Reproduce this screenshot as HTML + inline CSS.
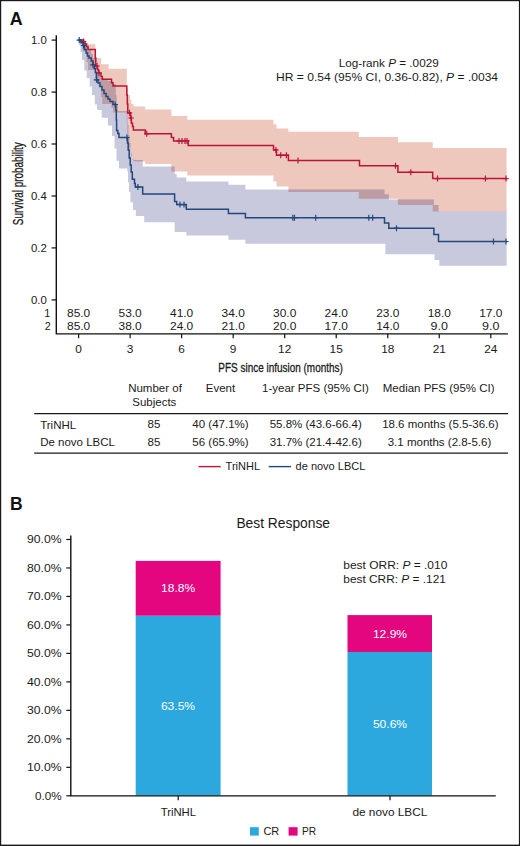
<!DOCTYPE html>
<html><head><meta charset="utf-8"><style>
html,body{margin:0;padding:0;background:#fff;}
body{width:520px;height:846px;overflow:hidden;}
svg{display:block;font-family:"Liberation Sans", sans-serif;}
</style></head><body>
<svg width="520" height="846" viewBox="0 0 520 846">
<rect width="520" height="846" fill="#fff"/>
<rect x="0" y="0" width="520" height="1.2" fill="#1a1a1a"/>
<rect x="0" y="0" width="1.2" height="846" fill="#1a1a1a"/>
<rect x="518.9" y="0" width="1.1" height="846" fill="#1a1a1a"/>
<rect x="0" y="844.6" width="520" height="1.4" fill="#1a1a1a"/>
<text x="9.7" y="24.7" font-size="17.9" font-weight="bold" fill="#111">A</text>
<defs><clipPath id="pc"><path d="M78.6 40.1 L83 40.1 L83 41.5 L85.5 41.5 L85.5 43 L87.8 43 L87.8 44.3 L95.3 44.3 L95.3 58 L101 58 L101 64.3 L108.6 64.3 L108.6 68.8 L126.8 68.8 L126.8 88 L127.8 88 L127.8 95 L130 95 L130 100 L131.4 100 L131.4 104 L133.4 104 L133.4 106.5 L145.2 106.5 L145.2 109.5 L171.4 109.5 L171.4 116 L187.3 116 L187.3 119.8 L273.5 119.8 L273.5 124.3 L276.5 124.3 L276.5 128.6 L288.4 128.6 L288.4 131.8 L358.8 131.8 L358.8 137.1 L397.9 137.1 L397.9 142.2 L432.7 142.2 L432.7 147.9 L506.6 147.9 L506.6 211.5 L432.7 211.5 L432.7 205 L397.9 205 L397.9 198.8 L358.8 198.8 L358.8 191.9 L288.4 191.9 L288.4 186.4 L276.5 186.4 L276.5 181.5 L273.5 181.5 L273.5 175.5 L187.3 175.5 L187.3 171.5 L171.4 171.5 L171.4 164 L145.2 164 L145.2 161.5 L133.4 161.5 L133.4 159.5 L132.5 159.5 L132.5 157 L131.4 157 L131.4 153 L130.5 153 L130.5 148 L127.8 148 L127.8 138 L127.3 138 L127.3 125 L126.8 125 L126.8 112.4 L113 112.4 L113 108 L111.5 108 L111.5 104 L102.3 104 L102.3 97 L101 97 L101 86 L98.5 86 L98.5 82 L97.5 82 L97.5 78 L95.3 78 L95.3 70 L88 70 L88 62 L86.6 62 L86.6 51.3 L82.7 51.3 L82.7 44 L80 44 L80 40.1 L78.6 40.1 Z"/></clipPath></defs>
<path d="M78.6 40.1 L83 40.1 L83 41.5 L85.5 41.5 L85.5 43 L87.8 43 L87.8 44.3 L95.3 44.3 L95.3 58 L101 58 L101 64.3 L108.6 64.3 L108.6 68.8 L126.8 68.8 L126.8 88 L127.8 88 L127.8 95 L130 95 L130 100 L131.4 100 L131.4 104 L133.4 104 L133.4 106.5 L145.2 106.5 L145.2 109.5 L171.4 109.5 L171.4 116 L187.3 116 L187.3 119.8 L273.5 119.8 L273.5 124.3 L276.5 124.3 L276.5 128.6 L288.4 128.6 L288.4 131.8 L358.8 131.8 L358.8 137.1 L397.9 137.1 L397.9 142.2 L432.7 142.2 L432.7 147.9 L506.6 147.9 L506.6 211.5 L432.7 211.5 L432.7 205 L397.9 205 L397.9 198.8 L358.8 198.8 L358.8 191.9 L288.4 191.9 L288.4 186.4 L276.5 186.4 L276.5 181.5 L273.5 181.5 L273.5 175.5 L187.3 175.5 L187.3 171.5 L171.4 171.5 L171.4 164 L145.2 164 L145.2 161.5 L133.4 161.5 L133.4 159.5 L132.5 159.5 L132.5 157 L131.4 157 L131.4 153 L130.5 153 L130.5 148 L127.8 148 L127.8 138 L127.3 138 L127.3 125 L126.8 125 L126.8 112.4 L113 112.4 L113 108 L111.5 108 L111.5 104 L102.3 104 L102.3 97 L101 97 L101 86 L98.5 86 L98.5 82 L97.5 82 L97.5 78 L95.3 78 L95.3 70 L88 70 L88 62 L86.6 62 L86.6 51.3 L82.7 51.3 L82.7 44 L80 44 L80 40.1 L78.6 40.1 Z" fill="#eec8bd"/>
<path d="M78.6 40.1 L81 40.1 L81 41 L84.4 41 L84.4 43.5 L87 43.5 L87 46 L89 46 L89 49 L91.3 49 L91.3 54 L93 54 L93 58 L95.3 58 L95.3 66 L96.5 66 L96.5 72 L100 72 L100 78 L104 78 L104 80 L108 80 L108 81 L113 81 L113 84 L115.8 84 L115.8 95 L116.6 95 L116.6 105 L118 105 L118 111 L127.5 111 L127.5 125 L128.5 125 L128.5 135 L129.5 135 L129.5 143 L130.5 143 L130.5 153 L132 153 L132 158.5 L133.5 158.5 L133.5 160 L142.7 160 L142.7 166.5 L174.6 166.5 L174.6 174 L176.7 174 L176.7 177.6 L186.3 177.6 L186.3 181.5 L228.4 181.5 L228.4 184.8 L245.4 184.8 L245.4 189.6 L384.5 189.6 L384.5 194.2 L388.8 194.2 L388.8 199.5 L433.9 199.5 L433.9 205 L438.5 205 L438.5 211.5 L506.6 211.5 L506.6 265.7 L439.3 265.7 L439.3 260 L434.5 260 L434.5 254.3 L385.4 254.3 L385.4 243.8 L245.4 243.8 L245.4 239.7 L228.4 239.7 L228.4 235.5 L186.3 235.5 L186.3 232 L174.6 232 L174.6 222.3 L144.2 222.3 L144.2 216 L135.8 216 L135.8 210 L133 210 L133 202.3 L130.4 202.3 L130.4 192 L129 192 L129 182.3 L128 182.3 L128 171.5 L127.3 171.5 L127.3 168.5 L119 168.5 L119 160.8 L116.5 160.8 L116.5 148.5 L114.5 148.5 L114.5 136 L112 136 L112 125.4 L107.9 125.4 L107.9 117.7 L101.7 117.7 L101.7 110 L97.1 110 L97.1 104.5 L94.8 104.5 L94.8 95 L92 95 L92 86.4 L89.6 86.4 L89.6 78 L86.7 78 L86.7 70.5 L84.3 70.5 L84.3 60 L82 60 L82 52 L80.5 52 L80.5 45 L79 45 L79 40.1 L78.6 40.1 Z" fill="#c8c9dd"/>
<path d="M78.6 40.1 L81 40.1 L81 41 L84.4 41 L84.4 43.5 L87 43.5 L87 46 L89 46 L89 49 L91.3 49 L91.3 54 L93 54 L93 58 L95.3 58 L95.3 66 L96.5 66 L96.5 72 L100 72 L100 78 L104 78 L104 80 L108 80 L108 81 L113 81 L113 84 L115.8 84 L115.8 95 L116.6 95 L116.6 105 L118 105 L118 111 L127.5 111 L127.5 125 L128.5 125 L128.5 135 L129.5 135 L129.5 143 L130.5 143 L130.5 153 L132 153 L132 158.5 L133.5 158.5 L133.5 160 L142.7 160 L142.7 166.5 L174.6 166.5 L174.6 174 L176.7 174 L176.7 177.6 L186.3 177.6 L186.3 181.5 L228.4 181.5 L228.4 184.8 L245.4 184.8 L245.4 189.6 L384.5 189.6 L384.5 194.2 L388.8 194.2 L388.8 199.5 L433.9 199.5 L433.9 205 L438.5 205 L438.5 211.5 L506.6 211.5 L506.6 265.7 L439.3 265.7 L439.3 260 L434.5 260 L434.5 254.3 L385.4 254.3 L385.4 243.8 L245.4 243.8 L245.4 239.7 L228.4 239.7 L228.4 235.5 L186.3 235.5 L186.3 232 L174.6 232 L174.6 222.3 L144.2 222.3 L144.2 216 L135.8 216 L135.8 210 L133 210 L133 202.3 L130.4 202.3 L130.4 192 L129 192 L129 182.3 L128 182.3 L128 171.5 L127.3 171.5 L127.3 168.5 L119 168.5 L119 160.8 L116.5 160.8 L116.5 148.5 L114.5 148.5 L114.5 136 L112 136 L112 125.4 L107.9 125.4 L107.9 117.7 L101.7 117.7 L101.7 110 L97.1 110 L97.1 104.5 L94.8 104.5 L94.8 95 L92 95 L92 86.4 L89.6 86.4 L89.6 78 L86.7 78 L86.7 70.5 L84.3 70.5 L84.3 60 L82 60 L82 52 L80.5 52 L80.5 45 L79 45 L79 40.1 L78.6 40.1 Z" fill="#bd9ca4" clip-path="url(#pc)"/>
<path d="M78.6 40.1 L83.5 40.1 L83.5 41.5 L85 41.5 L85 44 L86.5 44 L86.5 46.5 L88 46.5 L88 49.6 L95.3 49.6 L95.3 58 L95.8 58 L95.8 66 L97.5 66 L97.5 69.5 L98.5 69.5 L98.5 73 L101 73 L101 76.4 L102.3 76.4 L102.3 79.2 L111.5 79.2 L111.5 82.7 L113 82.7 L113 86.1 L126.8 86.1 L126.8 95 L127.3 95 L127.3 104 L127.8 104 L127.8 112.8 L130.5 112.8 L130.5 118 L131.4 118 L131.4 123.3 L132.5 123.3 L132.5 126.5 L133.4 126.5 L133.4 130.1 L145.2 130.1 L145.2 133.8 L171.4 133.8 L171.4 137.5 L173.6 137.5 L173.6 140.9 L188.2 140.9 L188.2 145.4 L273.5 145.4 L273.5 149.9 L276.5 149.9 L276.5 155.2 L288.4 155.2 L288.4 160.5 L359.5 160.5 L359.5 165.7 L397.9 165.7 L397.9 172.2 L432.7 172.2 L432.7 178.6 L506.6 178.6" fill="none" stroke="#bb1439" stroke-width="1.5" stroke-linejoin="miter"/>
<path d="M83.5 38.5 L83.5 44.5 M80.8 41.5 L86.2 41.5 M97 63 L97 69 M94.3 66 L99.7 66 M99 70 L99 76 M96.3 73 L101.7 73 M129.5 109.8 L129.5 115.8 M126.8 112.8 L132.2 112.8 M131.1 115 L131.1 121 M128.4 118 L133.8 118 M146.7 130.8 L146.7 136.8 M144 133.8 L149.4 133.8 M179 137.9 L179 143.9 M176.3 140.9 L181.7 140.9 M182 137.9 L182 143.9 M179.3 140.9 L184.7 140.9 M185 137.9 L185 143.9 M182.3 140.9 L187.7 140.9 M187 137.9 L187 143.9 M184.3 140.9 L189.7 140.9 M275.9 146.9 L275.9 152.9 M273.2 149.9 L278.6 149.9 M280.7 152.2 L280.7 158.2 M278 155.2 L283.4 155.2 M286.4 152.2 L286.4 158.2 M283.7 155.2 L289.1 155.2 M298 157.5 L298 163.5 M295.3 160.5 L300.7 160.5 M395.5 162.7 L395.5 168.7 M392.8 165.7 L398.2 165.7 M410.8 169.2 L410.8 175.2 M408.1 172.2 L413.5 172.2 M437.5 175.6 L437.5 181.6 M434.8 178.6 L440.2 178.6 M485.4 175.6 L485.4 181.6 M482.7 178.6 L488.1 178.6 M506 175.6 L506 181.6 M503.3 178.6 L508.7 178.6" fill="none" stroke="#bb1439" stroke-width="1.2"/>
<path d="M78.6 40.1 L81 40.1 L81 42.5 L83 42.5 L83 45.5 L84.4 45.5 L84.4 49.6 L86.1 49.6 L86.1 53 L87.5 53 L87.5 56 L89 56 L89 58 L91.3 58 L91.3 61 L93 61 L93 64.8 L94.2 64.8 L94.2 68.5 L95.3 68.5 L95.3 72.5 L96.5 72.5 L96.5 79.8 L98 79.8 L98 83 L100 83 L100 86.5 L102 86.5 L102 90 L104 90 L104 93.5 L106 93.5 L106 96.5 L108 96.5 L108 99 L110 99 L110 101.5 L113 101.5 L113 104.5 L115.8 104.5 L115.8 110.2 L116.3 110.2 L116.3 120 L116.6 120 L116.6 130.5 L117.8 130.5 L117.8 133.5 L119 133.5 L119 137.5 L127.5 137.5 L127.5 143 L128.2 143 L128.2 150 L129.2 150 L129.2 158 L130.2 158 L130.2 165 L131.2 165 L131.2 172 L132.3 172 L132.3 179.3 L134.5 179.3 L134.5 183.5 L135.3 183.5 L135.3 186.9 L142.7 186.9 L142.7 194.1 L174.6 194.1 L174.6 201.5 L176.7 201.5 L176.7 204.6 L186.3 204.6 L186.3 209.3 L228.4 209.3 L228.4 213.6 L245.4 213.6 L245.4 217.7 L384.5 217.7 L384.5 223 L388.8 223 L388.8 228.2 L433.9 228.2 L433.9 234.6 L438.5 234.6 L438.5 241.5 L506.6 241.5" fill="none" stroke="#21487c" stroke-width="1.5"/>
<path d="M79.2 37.1 L79.2 43.1 M76.5 40.1 L81.9 40.1 M83.5 42.5 L83.5 48.5 M80.8 45.5 L86.2 45.5 M93 61.8 L93 67.8 M90.3 64.8 L95.7 64.8 M96.5 76.8 L96.5 82.8 M93.8 79.8 L99.2 79.8 M115.2 101.5 L115.2 107.5 M112.5 104.5 L117.9 104.5 M126.9 134.5 L126.9 140.5 M124.2 137.5 L129.6 137.5 M137.9 183.9 L137.9 189.9 M135.2 186.9 L140.6 186.9 M180 201.6 L180 207.6 M177.3 204.6 L182.7 204.6 M184 201.6 L184 207.6 M181.3 204.6 L186.7 204.6 M292.8 214.7 L292.8 220.7 M290.1 217.7 L295.5 217.7 M294.5 214.7 L294.5 220.7 M291.8 217.7 L297.2 217.7 M315.7 214.7 L315.7 220.7 M313 217.7 L318.4 217.7 M368.8 214.7 L368.8 220.7 M366.1 217.7 L371.5 217.7 M372.7 214.7 L372.7 220.7 M370 217.7 L375.4 217.7 M396.5 225.2 L396.5 231.2 M393.8 228.2 L399.2 228.2 M493.5 238.5 L493.5 244.5 M490.8 241.5 L496.2 241.5 M506 238.5 L506 244.5 M503.3 241.5 L508.7 241.5" fill="none" stroke="#21487c" stroke-width="1.2"/>
<path d="M56.3 35.3 V333.9 H507.9" fill="none" stroke="#111" stroke-width="1.4"/>
<path d="M51.6 40.1 H56.3" stroke="#111" stroke-width="1.2"/>
<text x="46.8" y="43.9" font-size="10.6" text-anchor="end" fill="#1a1a1a" textLength="15.8" lengthAdjust="spacingAndGlyphs">1.0</text>
<path d="M51.6 92.1 H56.3" stroke="#111" stroke-width="1.2"/>
<text x="46.8" y="95.9" font-size="10.6" text-anchor="end" fill="#1a1a1a" textLength="15.8" lengthAdjust="spacingAndGlyphs">0.8</text>
<path d="M51.6 144 H56.3" stroke="#111" stroke-width="1.2"/>
<text x="46.8" y="147.8" font-size="10.6" text-anchor="end" fill="#1a1a1a" textLength="15.8" lengthAdjust="spacingAndGlyphs">0.6</text>
<path d="M51.6 196 H56.3" stroke="#111" stroke-width="1.2"/>
<text x="46.8" y="199.8" font-size="10.6" text-anchor="end" fill="#1a1a1a" textLength="15.8" lengthAdjust="spacingAndGlyphs">0.4</text>
<path d="M51.6 247.9 H56.3" stroke="#111" stroke-width="1.2"/>
<text x="46.8" y="251.7" font-size="10.6" text-anchor="end" fill="#1a1a1a" textLength="15.8" lengthAdjust="spacingAndGlyphs">0.2</text>
<path d="M51.6 299.9 H56.3" stroke="#111" stroke-width="1.2"/>
<text x="46.8" y="303.7" font-size="10.6" text-anchor="end" fill="#1a1a1a" textLength="15.8" lengthAdjust="spacingAndGlyphs">0.0</text>
<path d="M78.6 333.9 V338.3" stroke="#111" stroke-width="1.2"/>
<text x="78.6" y="353.4" font-size="10.6" text-anchor="middle" fill="#1a1a1a" textLength="6.6" lengthAdjust="spacingAndGlyphs">0</text>
<path d="M130.12 333.9 V338.3" stroke="#111" stroke-width="1.2"/>
<text x="130.12" y="353.4" font-size="10.6" text-anchor="middle" fill="#1a1a1a" textLength="6.6" lengthAdjust="spacingAndGlyphs">3</text>
<path d="M181.65 333.9 V338.3" stroke="#111" stroke-width="1.2"/>
<text x="181.65" y="353.4" font-size="10.6" text-anchor="middle" fill="#1a1a1a" textLength="6.6" lengthAdjust="spacingAndGlyphs">6</text>
<path d="M233.17 333.9 V338.3" stroke="#111" stroke-width="1.2"/>
<text x="233.17" y="353.4" font-size="10.6" text-anchor="middle" fill="#1a1a1a" textLength="6.6" lengthAdjust="spacingAndGlyphs">9</text>
<path d="M284.7 333.9 V338.3" stroke="#111" stroke-width="1.2"/>
<text x="284.7" y="353.4" font-size="10.6" text-anchor="middle" fill="#1a1a1a" textLength="13.2" lengthAdjust="spacingAndGlyphs">12</text>
<path d="M336.23 333.9 V338.3" stroke="#111" stroke-width="1.2"/>
<text x="336.23" y="353.4" font-size="10.6" text-anchor="middle" fill="#1a1a1a" textLength="13.2" lengthAdjust="spacingAndGlyphs">15</text>
<path d="M387.75 333.9 V338.3" stroke="#111" stroke-width="1.2"/>
<text x="387.75" y="353.4" font-size="10.6" text-anchor="middle" fill="#1a1a1a" textLength="13.2" lengthAdjust="spacingAndGlyphs">18</text>
<path d="M439.27 333.9 V338.3" stroke="#111" stroke-width="1.2"/>
<text x="439.27" y="353.4" font-size="10.6" text-anchor="middle" fill="#1a1a1a" textLength="13.2" lengthAdjust="spacingAndGlyphs">21</text>
<path d="M490.8 333.9 V338.3" stroke="#111" stroke-width="1.2"/>
<text x="490.8" y="353.4" font-size="10.6" text-anchor="middle" fill="#1a1a1a" textLength="13.2" lengthAdjust="spacingAndGlyphs">24</text>
<text x="78.6" y="316.8" font-size="10.8" text-anchor="middle" fill="#1a1a1a" textLength="23.2" lengthAdjust="spacingAndGlyphs">85.0</text>
<text x="78.6" y="330.4" font-size="10.8" text-anchor="middle" fill="#1a1a1a" textLength="23.2" lengthAdjust="spacingAndGlyphs">85.0</text>
<text x="130.12" y="316.8" font-size="10.8" text-anchor="middle" fill="#1a1a1a" textLength="23.2" lengthAdjust="spacingAndGlyphs">53.0</text>
<text x="130.12" y="330.4" font-size="10.8" text-anchor="middle" fill="#1a1a1a" textLength="23.2" lengthAdjust="spacingAndGlyphs">38.0</text>
<text x="181.65" y="316.8" font-size="10.8" text-anchor="middle" fill="#1a1a1a" textLength="23.2" lengthAdjust="spacingAndGlyphs">41.0</text>
<text x="181.65" y="330.4" font-size="10.8" text-anchor="middle" fill="#1a1a1a" textLength="23.2" lengthAdjust="spacingAndGlyphs">24.0</text>
<text x="233.17" y="316.8" font-size="10.8" text-anchor="middle" fill="#1a1a1a" textLength="23.2" lengthAdjust="spacingAndGlyphs">34.0</text>
<text x="233.17" y="330.4" font-size="10.8" text-anchor="middle" fill="#1a1a1a" textLength="23.2" lengthAdjust="spacingAndGlyphs">21.0</text>
<text x="284.7" y="316.8" font-size="10.8" text-anchor="middle" fill="#1a1a1a" textLength="23.2" lengthAdjust="spacingAndGlyphs">30.0</text>
<text x="284.7" y="330.4" font-size="10.8" text-anchor="middle" fill="#1a1a1a" textLength="23.2" lengthAdjust="spacingAndGlyphs">20.0</text>
<text x="336.23" y="316.8" font-size="10.8" text-anchor="middle" fill="#1a1a1a" textLength="23.2" lengthAdjust="spacingAndGlyphs">24.0</text>
<text x="336.23" y="330.4" font-size="10.8" text-anchor="middle" fill="#1a1a1a" textLength="23.2" lengthAdjust="spacingAndGlyphs">17.0</text>
<text x="387.75" y="316.8" font-size="10.8" text-anchor="middle" fill="#1a1a1a" textLength="23.2" lengthAdjust="spacingAndGlyphs">23.0</text>
<text x="387.75" y="330.4" font-size="10.8" text-anchor="middle" fill="#1a1a1a" textLength="23.2" lengthAdjust="spacingAndGlyphs">14.0</text>
<text x="439.27" y="316.8" font-size="10.8" text-anchor="middle" fill="#1a1a1a" textLength="23.2" lengthAdjust="spacingAndGlyphs">18.0</text>
<text x="439.27" y="330.4" font-size="10.8" text-anchor="middle" fill="#1a1a1a" textLength="17.4" lengthAdjust="spacingAndGlyphs">9.0</text>
<text x="490.8" y="316.8" font-size="10.8" text-anchor="middle" fill="#1a1a1a" textLength="23.2" lengthAdjust="spacingAndGlyphs">17.0</text>
<text x="490.8" y="330.4" font-size="10.8" text-anchor="middle" fill="#1a1a1a" textLength="17.4" lengthAdjust="spacingAndGlyphs">9.0</text>
<text x="50.2" y="316.8" font-size="10.8" text-anchor="end" fill="#1a1a1a">1</text>
<text x="50.8" y="330.4" font-size="10.8" text-anchor="end" fill="#1a1a1a">2</text>
<text transform="translate(23.1 183.7) rotate(-90)" x="0" y="0" font-size="14.4" text-anchor="middle" fill="#1a1a1a" stroke="#1a1a1a" stroke-width="0.3" textLength="83" lengthAdjust="spacingAndGlyphs">Survival probability</text>
<text x="280.6" y="372.4" font-size="13.2" text-anchor="middle" fill="#1a1a1a" stroke="#1a1a1a" stroke-width="0.3" textLength="124.5" lengthAdjust="spacingAndGlyphs">PFS since infusion (months)</text>
<text x="388.7" y="67" font-size="10.8" text-anchor="middle" fill="#1a1a1a" textLength="100" lengthAdjust="spacingAndGlyphs">Log-rank <tspan font-style="italic">P</tspan> = .0029</text>
<text x="387.1" y="81.3" font-size="10.8" text-anchor="middle" fill="#1a1a1a" textLength="222" lengthAdjust="spacingAndGlyphs">HR = 0.54 (95% CI, 0.36-0.82), <tspan font-style="italic">P</tspan> = .0034</text>
<text x="155" y="392.3" font-size="11.5" text-anchor="middle" fill="#1a1a1a">Number of</text>
<text x="154.3" y="405.8" font-size="11.5" text-anchor="middle" fill="#1a1a1a">Subjects</text>
<text x="220.5" y="392.3" font-size="11.5" text-anchor="middle" fill="#1a1a1a">Event</text>
<text x="315.4" y="391.8" font-size="11.5" text-anchor="middle" fill="#1a1a1a">1-year PFS (95% CI)</text>
<text x="438.7" y="391.8" font-size="11.5" text-anchor="middle" fill="#1a1a1a">Median PFS (95% CI)</text>
<path d="M34.2 413.7 H508" stroke="#1a1a1a" stroke-width="1.3"/>
<path d="M34.2 453.1 H508" stroke="#1a1a1a" stroke-width="1.3"/>
<text x="40.2" y="428.5" font-size="11.5" text-anchor="start" fill="#1a1a1a">TriNHL</text>
<text x="40.2" y="446.3" font-size="11.5" text-anchor="start" fill="#1a1a1a">De novo LBCL</text>
<text x="154" y="428" font-size="11.5" text-anchor="middle" fill="#1a1a1a">85</text>
<text x="154" y="446.2" font-size="11.5" text-anchor="middle" fill="#1a1a1a">85</text>
<text x="220.5" y="428" font-size="11.5" text-anchor="middle" fill="#1a1a1a">40 (47.1%)</text>
<text x="220.5" y="446.2" font-size="11.5" text-anchor="middle" fill="#1a1a1a">56 (65.9%)</text>
<text x="315.7" y="428" font-size="11.5" text-anchor="middle" fill="#1a1a1a">55.8% (43.6-66.4)</text>
<text x="315.7" y="446.2" font-size="11.5" text-anchor="middle" fill="#1a1a1a">31.7% (21.4-42.6)</text>
<text x="440.3" y="428" font-size="11.5" text-anchor="middle" fill="#1a1a1a">18.6 months (5.5-36.6)</text>
<text x="439.5" y="446.2" font-size="11.5" text-anchor="middle" fill="#1a1a1a">3.1 months (2.8-5.6)</text>
<path d="M198.5 466.6 H220.7" stroke="#bb1439" stroke-width="1.4"/>
<text x="225.6" y="470.3" font-size="11" text-anchor="start" fill="#1a1a1a">TriNHL</text>
<path d="M268.7 466.6 H291.1" stroke="#21487c" stroke-width="1.4"/>
<text x="295.6" y="470.3" font-size="11" text-anchor="start" fill="#1a1a1a">de novo LBCL</text>
<text x="10" y="510.4" font-size="17.5" font-weight="bold" fill="#111">B</text>
<text x="283.2" y="527.9" font-size="13.8" text-anchor="middle" fill="#1a1a1a" textLength="93.6" lengthAdjust="spacingAndGlyphs">Best Response</text>
<rect x="135.7" y="615.7" width="84.9" height="179.8" fill="#2da8df"/>
<rect x="135.7" y="560.9" width="84.9" height="54.8" fill="#e3067f"/>
<rect x="347.5" y="652" width="84.5" height="143.5" fill="#2da8df"/>
<rect x="347.5" y="615.1" width="84.5" height="36.9" fill="#e3067f"/>
<path d="M70.8 535.4 V795.9 H495.8" fill="none" stroke="#111" stroke-width="1.4"/>
<path d="M66.3 795.8 H70.8" stroke="#111" stroke-width="1.2"/>
<text x="61.6" y="799.7" font-size="10.8" text-anchor="end" fill="#1a1a1a" textLength="26.6" lengthAdjust="spacingAndGlyphs">0.0%</text>
<path d="M66.3 767.32 H70.8" stroke="#111" stroke-width="1.2"/>
<text x="61.6" y="771.22" font-size="10.8" text-anchor="end" fill="#1a1a1a" textLength="34.6" lengthAdjust="spacingAndGlyphs">10.0%</text>
<path d="M66.3 738.84 H70.8" stroke="#111" stroke-width="1.2"/>
<text x="61.6" y="742.74" font-size="10.8" text-anchor="end" fill="#1a1a1a" textLength="34.6" lengthAdjust="spacingAndGlyphs">20.0%</text>
<path d="M66.3 710.36 H70.8" stroke="#111" stroke-width="1.2"/>
<text x="61.6" y="714.26" font-size="10.8" text-anchor="end" fill="#1a1a1a" textLength="34.6" lengthAdjust="spacingAndGlyphs">30.0%</text>
<path d="M66.3 681.88 H70.8" stroke="#111" stroke-width="1.2"/>
<text x="61.6" y="685.78" font-size="10.8" text-anchor="end" fill="#1a1a1a" textLength="34.6" lengthAdjust="spacingAndGlyphs">40.0%</text>
<path d="M66.3 653.4 H70.8" stroke="#111" stroke-width="1.2"/>
<text x="61.6" y="657.3" font-size="10.8" text-anchor="end" fill="#1a1a1a" textLength="34.6" lengthAdjust="spacingAndGlyphs">50.0%</text>
<path d="M66.3 624.92 H70.8" stroke="#111" stroke-width="1.2"/>
<text x="61.6" y="628.82" font-size="10.8" text-anchor="end" fill="#1a1a1a" textLength="34.6" lengthAdjust="spacingAndGlyphs">60.0%</text>
<path d="M66.3 596.44 H70.8" stroke="#111" stroke-width="1.2"/>
<text x="61.6" y="600.34" font-size="10.8" text-anchor="end" fill="#1a1a1a" textLength="34.6" lengthAdjust="spacingAndGlyphs">70.0%</text>
<path d="M66.3 567.96 H70.8" stroke="#111" stroke-width="1.2"/>
<text x="61.6" y="571.86" font-size="10.8" text-anchor="end" fill="#1a1a1a" textLength="34.6" lengthAdjust="spacingAndGlyphs">80.0%</text>
<path d="M66.3 539.48 H70.8" stroke="#111" stroke-width="1.2"/>
<text x="61.6" y="543.38" font-size="10.8" text-anchor="end" fill="#1a1a1a" textLength="34.6" lengthAdjust="spacingAndGlyphs">90.0%</text>
<path d="M178.2 795.9 V800.2" stroke="#111" stroke-width="1.2"/>
<path d="M390 795.9 V800.2" stroke="#111" stroke-width="1.2"/>
<text x="178.4" y="815.8" font-size="11.2" text-anchor="middle" fill="#1a1a1a" textLength="35.4" lengthAdjust="spacingAndGlyphs">TriNHL</text>
<text x="389.9" y="815.9" font-size="11.2" text-anchor="middle" fill="#1a1a1a" textLength="75" lengthAdjust="spacingAndGlyphs">de novo LBCL</text>
<text x="178.2" y="592.2" font-size="11.4" text-anchor="middle" fill="#fff" textLength="34.2" lengthAdjust="spacingAndGlyphs">18.8%</text>
<text x="178" y="709.7" font-size="11.4" text-anchor="middle" fill="#fff" textLength="34.2" lengthAdjust="spacingAndGlyphs">63.5%</text>
<text x="390" y="637.6" font-size="11.4" text-anchor="middle" fill="#fff" textLength="34.2" lengthAdjust="spacingAndGlyphs">12.9%</text>
<text x="390" y="728.1" font-size="11.4" text-anchor="middle" fill="#fff" textLength="34.2" lengthAdjust="spacingAndGlyphs">50.6%</text>
<text x="343.3" y="568.8" font-size="11.5" text-anchor="start" fill="#1a1a1a" textLength="104" lengthAdjust="spacingAndGlyphs">best ORR: <tspan font-style="italic">P</tspan> = .010</text>
<text x="343.3" y="582.5" font-size="11.5" text-anchor="start" fill="#1a1a1a" textLength="102.6" lengthAdjust="spacingAndGlyphs">best CRR: <tspan font-style="italic">P</tspan> = .121</text>
<rect x="250" y="827.2" width="8.8" height="8.4" fill="#2da8df"/>
<text x="263.4" y="834.8" font-size="10.6" text-anchor="start" fill="#1a1a1a" textLength="15.8" lengthAdjust="spacingAndGlyphs">CR</text>
<rect x="288.6" y="827.2" width="9" height="8.4" fill="#e3067f"/>
<text x="302" y="834.8" font-size="10.6" text-anchor="start" fill="#1a1a1a" textLength="14.2" lengthAdjust="spacingAndGlyphs">PR</text>
</svg>
</body></html>
